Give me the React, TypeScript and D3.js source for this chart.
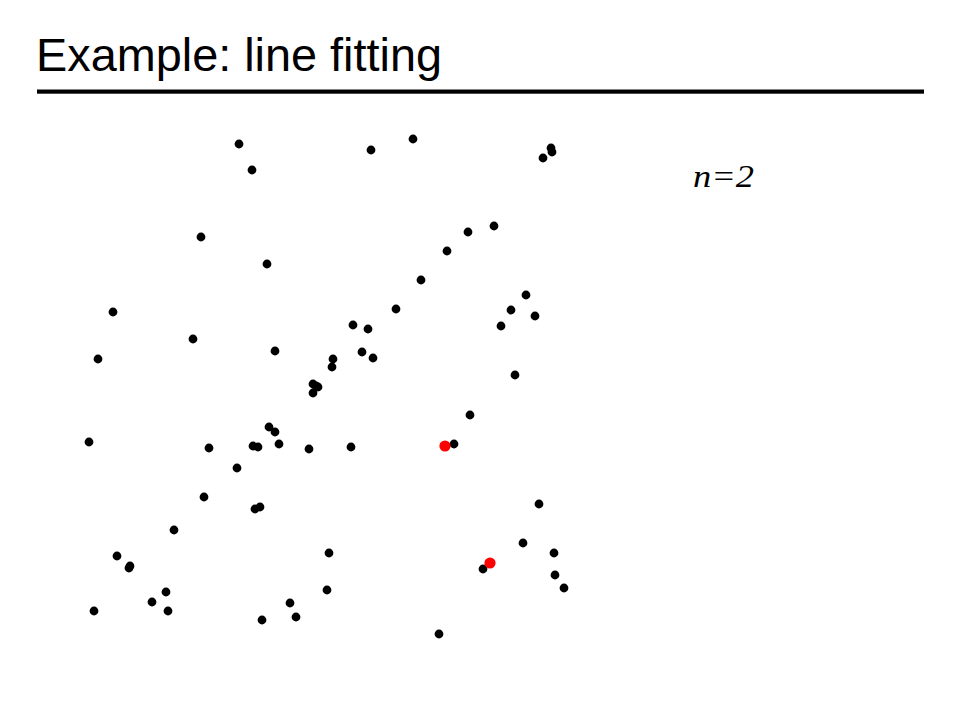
import React, { useEffect } from "react";
import * as d3 from "d3";

const TITLE = "Example: line fitting";
const LABEL = "n=2";

// Data points (x, y) in the chart's own coordinate frame
const pointsX = [239, 252, 371, 413, 551, 552, 543, 201, 267, 468, 494, 447, 113, 421, 396, 526, 511, 535, 501, 353, 368, 193, 98, 275, 333, 332, 362, 373, 313, 316, 318, 313, 515, 470, 89, 209, 269, 275, 279, 253, 258, 309, 351, 454, 237, 204, 255, 260, 539, 174, 523, 117, 130, 129, 329, 554, 483, 555, 564, 166, 327, 152, 290, 94, 168, 262, 296, 439];
const pointsY = [144, 170, 150, 139, 148, 152, 158, 237, 264, 232, 226, 251, 312, 280, 309, 295, 310, 316, 326, 325, 329, 339, 359, 351, 359, 367, 352, 358, 384, 386, 387, 393, 375, 415, 442, 448, 427, 432, 444, 446, 447, 449, 447, 444, 468, 497, 509, 507, 504, 530, 543, 556, 566, 568, 553, 553, 569, 575, 588, 592, 590, 602, 603, 611, 611, 620, 617, 634];

// The two sampled points (red)
const sampleX = [445, 490];
const sampleY = [446, 563];

export default function App() {
  useEffect(() => {
    document.body.style.margin = "0";
  }, []);

  const W = 960;
  const H = 720;
  const x = d3.scaleLinear().domain([0, 960]).range([0, W]);
  const y = d3.scaleLinear().domain([0, 720]).range([0, H]);

  const pts = pointsX.map((v, i) => ({ x: v, y: pointsY[i] }));
  const samples = sampleX.map((v, i) => ({ x: v, y: sampleY[i] }));

  return (
    <svg width={W} height={H} style={{ position: "absolute", left: 0, top: 0, background: "#fff" }}>
      <rect x={0} y={0} width={W} height={H} fill="#fff" />
      <text
        x={36}
        y={71}
        fontFamily="'Liberation Sans', Arial, sans-serif"
        fontSize={47}
        textLength={406}
        lengthAdjust="spacingAndGlyphs"
        fill="#000"
      >
        {TITLE}
      </text>
      <rect x={37} y={89.5} width={887} height={4.2} fill="#000" />
      <text
        x={693}
        y={187}
        fontFamily="'Liberation Serif', 'Times New Roman', serif"
        fontStyle="italic"
        fontSize={31}
        textLength={61}
        lengthAdjust="spacingAndGlyphs"
        fill="#000"
      >
        {LABEL}
      </text>
      <g>
        {pts.map((p, i) => (
          <circle key={i} cx={x(p.x)} cy={y(p.y)} r={4.4} fill="#000" />
        ))}
      </g>
      <g>
        {samples.map((p, i) => (
          <circle key={i} cx={x(p.x)} cy={y(p.y)} r={5.6} fill="#ff0000" />
        ))}
      </g>
    </svg>
  );
}
